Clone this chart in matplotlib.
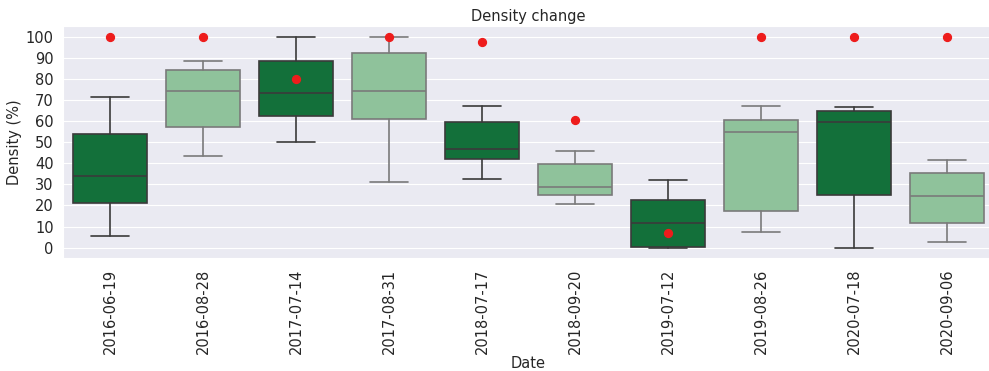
import matplotlib
matplotlib.use('Agg')
import matplotlib.pyplot as plt
import seaborn as sns
import numpy as np

dates = ['2016-06-19', '2016-08-28', '2017-07-14', '2017-08-31', '2018-07-17',
         '2018-09-20', '2019-07-12', '2019-08-26', '2020-07-18', '2020-09-06']
whisker_low = [5.5, 43.6, 50.0, 31.1, 32.6, 20.7, 0.0, 7.3, 0.0, 2.9]
q1 = [21.0, 57.0, 62.4, 61.1, 41.9, 24.8, 0.5, 17.6, 25.2, 11.8]
median = [34.0, 74.1, 73.2, 74.1, 46.6, 28.6, 11.8, 54.6, 59.4, 24.3]
q3 = [53.7, 84.2, 88.6, 92.4, 59.7, 39.8, 22.7, 60.5, 64.9, 35.5]
whisker_high = [71.4, 88.3, 100.0, 100.0, 67.0, 45.8, 31.9, 67.3, 66.8, 41.7]
reference = [100, 100, 80.1, 100, 97.3, 60.5, 7.0, 100, 100, 100]

DARK = '#13703a'
LIGHT = '#8fc29b'


def main():
	sns.set_style('darkgrid')
	plt.rcParams['font.family'] = ['DejaVu Sans']
	plt.rcParams['font.size'] = 10.5

	fig = plt.figure(figsize=(9.89, 3.71), dpi=100)
	ax = fig.add_axes([63.5 / 989, 1 - 258.2 / 371, 930 / 989, 232 / 371])

	stats = []
	for i in range(len(dates)):
		stats.append({'whislo': whisker_low[i], 'q1': q1[i], 'med': median[i],
		              'q3': q3[i], 'whishi': whisker_high[i], 'fliers': []})

	pos = np.arange(len(dates))
	for i, s in enumerate(stats):
		fill = DARK if i % 2 == 0 else LIGHT
		line = '#3a3a3a' if i % 2 == 0 else '#7a7a7a'
		ax.bxp([s], positions=[pos[i]], widths=0.8, patch_artist=True,
		       showfliers=False,
		       boxprops=dict(facecolor=fill, edgecolor=line, linewidth=1.2),
		       medianprops=dict(color=line, linewidth=1.2),
		       whiskerprops=dict(color=line, linewidth=1.2),
		       capprops=dict(color=line, linewidth=1.2))

	ax.scatter(pos, reference, color='#ee1c1c', s=32, zorder=5)

	ax.set_xlim(-0.5, len(dates) - 0.5)
	ax.set_ylim(-5, 105)
	ax.set_yticks(np.arange(0, 101, 10))
	ax.set_xticks(pos)
	ax.set_xticklabels(dates, rotation=90)
	ax.tick_params(axis='x', pad=4)
	ax.grid(axis='x', visible=False)
	ax.set_title('Density change', fontsize=10.5, pad=4)
	ax.set_xlabel('Date', labelpad=1)
	ax.set_ylabel('Density (%)', labelpad=3)

	fig.savefig('out.png', dpi=100)


if __name__ == '__main__':
	main()
